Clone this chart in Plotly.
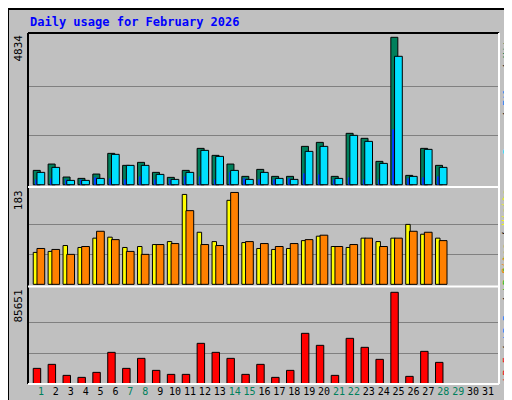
import plotly.graph_objects as go

days = list(range(1, 29))
hits = [470,678,252,208,350,1028,635,733,405,241,470,1192,963,678,274,503,274,274,1258,1389,274,1685,1521,766,4834,306,1192,635]
files = [405,569,142,142,208,996,635,635,339,175,405,1127,930,470,175,405,208,175,1094,1258,208,1619,1422,700,4211,274,1160,569]
pages = [175,208,175,175,241,208,175,274,175,175,274,274,175,405,208,175,175,208,372,339,175,241,175,175,1816,208,241,274]
visits = [65,67,79,75,94,96,75,77,81,87,183,106,87,171,85,73,71,73,89,98,77,75,94,87,94,122,102,94]
sites = [73,71,61,77,108,91,67,61,81,83,150,81,79,187,87,83,77,83,91,100,77,81,94,77,94,108,106,89]
kbytes = [14380,18130,7815,5940,10630,29380,14380,23760,12500,8750,8750,37820,29380,23760,8750,18130,5940,12500,47200,35950,7815,42510,34070,22820,85651,6880,30320,20000]
day_labels = [str(d) for d in range(1, 32)]
weekend = [1,7,8,14,15,21,22,28,29]
max_hits, max_visits, max_kb = 4834, 183, 85651

line = dict(color="black", width=1)
fig = go.Figure()
fig.add_bar(x=days, y=hits, offset=-0.52, width=0.47, marker=dict(color="#00805c", line=line), xaxis="x", yaxis="y")
fig.add_bar(x=days, y=pages, offset=-0.38, width=0.13, marker=dict(color="#0040ff", line=dict(width=0)), xaxis="x", yaxis="y")
fig.add_bar(x=days, y=files, offset=-0.27, width=0.52, marker=dict(color="#00e0ff", line=line), xaxis="x", yaxis="y")
fig.add_bar(x=days, y=visits, offset=-0.52, width=0.3, marker=dict(color="#ffff00", line=line), xaxis="x2", yaxis="y2")
fig.add_bar(x=days, y=sites, offset=-0.27, width=0.52, marker=dict(color="#ff8000", line=line), xaxis="x2", yaxis="y2")
fig.add_bar(x=days, y=kbytes, offset=-0.52, width=0.5, marker=dict(color="#ff0000", line=line), xaxis="x3", yaxis="y3")

xr = [0.128, 31.74]
ticktext = [f'<span style="color:{"#00805c" if int(d) in weekend else "black"}">{d}</span>' for d in day_labels]
common_x = dict(range=xr, showgrid=False, zeroline=False, fixedrange=True)
common_y = dict(gridcolor="#808080", gridwidth=1, showticklabels=False, zeroline=False, ticks="")
fig.update_layout(
    width=512, height=400, barmode="overlay", showlegend=False,
    paper_bgcolor="#c0c0c0", plot_bgcolor="#c0c0c0",
    margin=dict(l=20, r=21, t=25, b=24),
    xaxis=dict(**common_x, showticklabels=False, anchor="y"),
    xaxis2=dict(**common_x, showticklabels=False, anchor="y2"),
    xaxis3=dict(**common_x, anchor="y3", tickvals=list(range(1, 32)), ticktext=ticktext, tickangle=0,
                tickfont=dict(family="DejaVu Sans Mono", size=10, color="black"), ticks=""),
    yaxis=dict(**common_y, domain=[0.564, 1], range=[-43, 4975], tickvals=[max_hits/3, 2*max_hits/3]),
    yaxis2=dict(**common_y, domain=[0.282, 0.558], range=[-1.4, 195.8], tickvals=[max_visits/3, 2*max_visits/3]),
    yaxis3=dict(**common_y, domain=[0, 0.2735], range=[-280, 89685], tickvals=[max_kb/3, 2*max_kb/3]),
    font=dict(family="DejaVu Sans Mono", color="black"),
)

shapes = [
    dict(type="rect", xref="paper", yref="paper", x0=-20/471, x1=1+20/471, y0=-23/351, y1=1+24/351, line=dict(color="black", width=2)),
    dict(type="line", xref="paper", yref="paper", x0=0, x1=1, y0=1, y1=1, line=dict(color="black", width=2)),
    dict(type="line", xref="paper", yref="paper", x0=0, x1=0, y0=0, y1=1, line=dict(color="black", width=2)),
    dict(type="line", xref="paper", yref="paper", x0=0, x1=1, y0=0, y1=0, line=dict(color="white", width=2)),
    dict(type="line", xref="paper", yref="paper", x0=1, x1=1, y0=0, y1=1, line=dict(color="white", width=2)),
    dict(type="line", xref="paper", yref="paper", x0=0, x1=1, y0=0.561, y1=0.561, line=dict(color="white", width=2)),
    dict(type="line", xref="paper", yref="paper", x0=0, x1=1, y0=0.278, y1=0.278, line=dict(color="white", width=2)),
]
fig.update_layout(shapes=shapes)

mono = "DejaVu Sans Mono"
ann = [
    dict(text="<b>Daily usage for February 2026</b>", x=0, y=1.005, xanchor="left", yanchor="bottom",
         font=dict(color="#0000ff", size=12, family=mono)),
    dict(text=str(max_hits), x=-0.003, y=1, xanchor="right", yanchor="top", textangle=-90, font=dict(size=11, family=mono)),
    dict(text=str(max_visits), x=-0.003, y=0.558, xanchor="right", yanchor="top", textangle=-90, font=dict(size=11, family=mono)),
    dict(text=str(max_kb), x=-0.003, y=0.2735, xanchor="right", yanchor="top", textangle=-90, font=dict(size=11, family=mono)),
    dict(text='<span style="color:#00e0ff">Pages</span> / <span style="color:#0080ff">Files</span> / <span style="color:#00805c">Hits</span>',
         x=1.0, y=1, xanchor="left", yanchor="top", textangle=-90, font=dict(size=10, family=mono)),
    dict(text='<span style="color:#ff8000">Sites</span> / <span style="color:#ffff00">Visits</span>',
         x=1.0, y=0.558, xanchor="left", yanchor="top", textangle=-90, font=dict(size=10, family=mono)),
    dict(text='<span style="color:#ff0000">kB F</span> / <span style="color:#0080ff">kB In</span> / <span style="color:#00c000">kB Out</span>',
         x=1.0, y=0, xanchor="left", yanchor="bottom", textangle=-90, font=dict(size=10, family=mono)),
]
for a in ann:
    a.update(xref="paper", yref="paper", showarrow=False)
fig.update_layout(annotations=ann)
fig.write_html("out.html")
